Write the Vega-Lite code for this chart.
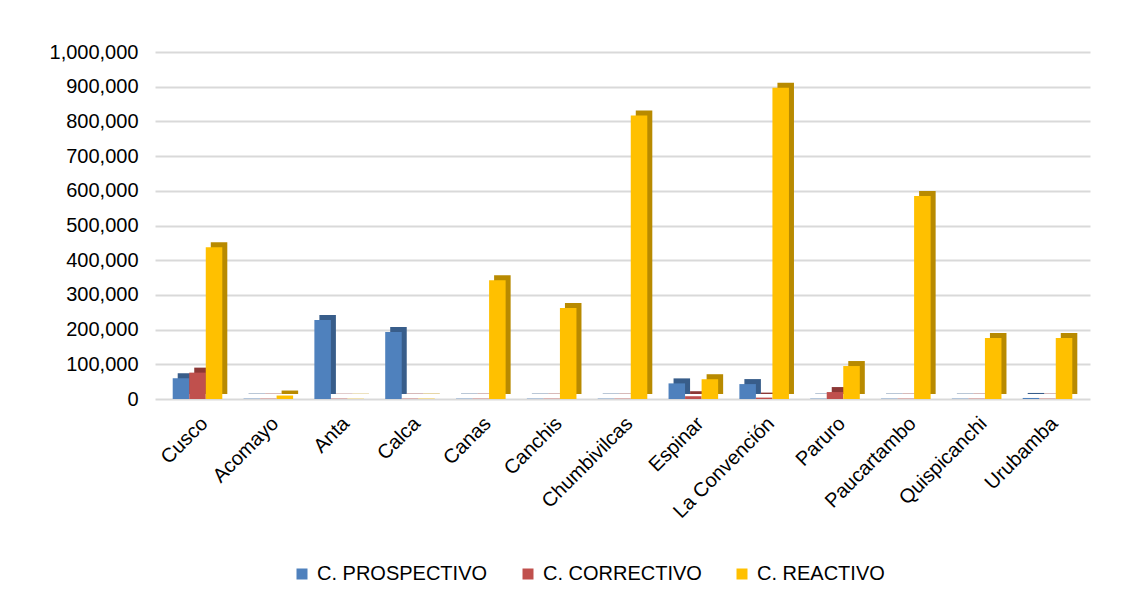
{
  "$schema": "https://vega.github.io/schema/vega-lite/v6.json",
  "width": 935,
  "height": 347,
  "padding": {"left": 155, "top": 52, "right": 49, "bottom": 206},
  "autosize": {"type": "none"},
  "background": "white",
  "config": {
    "font": "Liberation Sans",
    "view": {"stroke": null},
    "axis": {"labelFont": "Liberation Sans", "labelColor": "#000000"}
  },
  "data": {
    "values": [
      {"provincia": "Cusco", "tipo": "C. PROSPECTIVO", "valor": 60000},
      {"provincia": "Cusco", "tipo": "C. CORRECTIVO", "valor": 76000},
      {"provincia": "Cusco", "tipo": "C. REACTIVO", "valor": 437000},
      {"provincia": "Acomayo", "tipo": "C. PROSPECTIVO", "valor": 1000},
      {"provincia": "Acomayo", "tipo": "C. CORRECTIVO", "valor": 1000},
      {"provincia": "Acomayo", "tipo": "C. REACTIVO", "valor": 10000},
      {"provincia": "Anta", "tipo": "C. PROSPECTIVO", "valor": 228000},
      {"provincia": "Anta", "tipo": "C. CORRECTIVO", "valor": 1000},
      {"provincia": "Anta", "tipo": "C. REACTIVO", "valor": 1000},
      {"provincia": "Calca", "tipo": "C. PROSPECTIVO", "valor": 193000},
      {"provincia": "Calca", "tipo": "C. CORRECTIVO", "valor": 1000},
      {"provincia": "Calca", "tipo": "C. REACTIVO", "valor": 1000},
      {"provincia": "Canas", "tipo": "C. PROSPECTIVO", "valor": 1000},
      {"provincia": "Canas", "tipo": "C. CORRECTIVO", "valor": 1000},
      {"provincia": "Canas", "tipo": "C. REACTIVO", "valor": 342000},
      {"provincia": "Canchis", "tipo": "C. PROSPECTIVO", "valor": 1000},
      {"provincia": "Canchis", "tipo": "C. CORRECTIVO", "valor": 1000},
      {"provincia": "Canchis", "tipo": "C. REACTIVO", "valor": 262000},
      {"provincia": "Chumbivilcas", "tipo": "C. PROSPECTIVO", "valor": 1000},
      {"provincia": "Chumbivilcas", "tipo": "C. CORRECTIVO", "valor": 1000},
      {"provincia": "Chumbivilcas", "tipo": "C. REACTIVO", "valor": 817000},
      {"provincia": "Espinar", "tipo": "C. PROSPECTIVO", "valor": 45000},
      {"provincia": "Espinar", "tipo": "C. CORRECTIVO", "valor": 8000},
      {"provincia": "Espinar", "tipo": "C. REACTIVO", "valor": 57000},
      {"provincia": "La Convención", "tipo": "C. PROSPECTIVO", "valor": 43000},
      {"provincia": "La Convención", "tipo": "C. CORRECTIVO", "valor": 4000},
      {"provincia": "La Convención", "tipo": "C. REACTIVO", "valor": 897000},
      {"provincia": "Paruro", "tipo": "C. PROSPECTIVO", "valor": 1000},
      {"provincia": "Paruro", "tipo": "C. CORRECTIVO", "valor": 20000},
      {"provincia": "Paruro", "tipo": "C. REACTIVO", "valor": 95000},
      {"provincia": "Paucartambo", "tipo": "C. PROSPECTIVO", "valor": 1000},
      {"provincia": "Paucartambo", "tipo": "C. CORRECTIVO", "valor": 1000},
      {"provincia": "Paucartambo", "tipo": "C. REACTIVO", "valor": 585000},
      {"provincia": "Quispicanchi", "tipo": "C. PROSPECTIVO", "valor": 1000},
      {"provincia": "Quispicanchi", "tipo": "C. CORRECTIVO", "valor": 1000},
      {"provincia": "Quispicanchi", "tipo": "C. REACTIVO", "valor": 176000},
      {"provincia": "Urubamba", "tipo": "C. PROSPECTIVO", "valor": 3000},
      {"provincia": "Urubamba", "tipo": "C. CORRECTIVO", "valor": 1000},
      {"provincia": "Urubamba", "tipo": "C. REACTIVO", "valor": 176000}
    ]
  },
  "encoding": {
    "x": {
      "field": "provincia",
      "type": "nominal",
      "sort": null,
      "title": null,
      "scale": {"paddingInner": 0.3, "paddingOuter": 0.25},
      "axis": {
        "labelAngle": -45,
        "labelFontSize": 20,
        "labelPadding": 14,
        "ticks": false,
        "domain": false
      }
    },
    "y": {
      "field": "valor",
      "type": "quantitative",
      "title": null,
      "scale": {"domain": [0, 1000000]},
      "axis": {
        "values": [0, 100000, 200000, 300000, 400000, 500000, 600000, 700000, 800000, 900000, 1000000],
        "format": ",d",
        "labelFontSize": 20,
        "labelPadding": 17,
        "ticks": false,
        "domain": false,
        "gridColor": "#d9d9d9",
        "gridWidth": 2
      }
    }
  },
  "layer": [
    {
      "mark": {"type": "bar", "yOffset": -5, "y2Offset": -5},
      "encoding": {
        "xOffset": {
          "field": "tipo",
          "type": "nominal",
          "sort": ["C. PROSPECTIVO", "C. CORRECTIVO", "C. REACTIVO"],
          "scale": {"range": [5, 54.6]}
        },
        "color": {
          "field": "tipo",
          "type": "nominal",
          "scale": {
            "domain": ["C. PROSPECTIVO", "C. CORRECTIVO", "C. REACTIVO"],
            "range": ["#385d8a", "#8c3836", "#b88a00"]
          },
          "legend": null
        }
      }
    },
    {
      "mark": {"type": "bar"},
      "encoding": {
        "xOffset": {
          "field": "tipo",
          "type": "nominal",
          "sort": ["C. PROSPECTIVO", "C. CORRECTIVO", "C. REACTIVO"]
        },
        "color": {
          "field": "tipo",
          "type": "nominal",
          "sort": ["C. PROSPECTIVO", "C. CORRECTIVO", "C. REACTIVO"],
          "scale": {
            "domain": ["C. PROSPECTIVO", "C. CORRECTIVO", "C. REACTIVO"],
            "range": ["#4f81bd", "#c0504d", "#ffc000"]
          },
          "legend": {
            "title": null,
            "orient": "none",
            "legendX": 137,
            "legendY": 512,
            "direction": "horizontal",
            "symbolType": "square",
            "symbolSize": 121,
            "symbolStrokeWidth": 0,
            "labelFontSize": 20,
            "labelLimit": 400,
            "labelOffset": 5,
            "labelFont": "Liberation Sans",
            "labelColor": "#000000",
            "columnPadding": 30
          }
        }
      }
    }
  ],
  "resolve": {"scale": {"color": "independent", "xOffset": "independent"}}
}
